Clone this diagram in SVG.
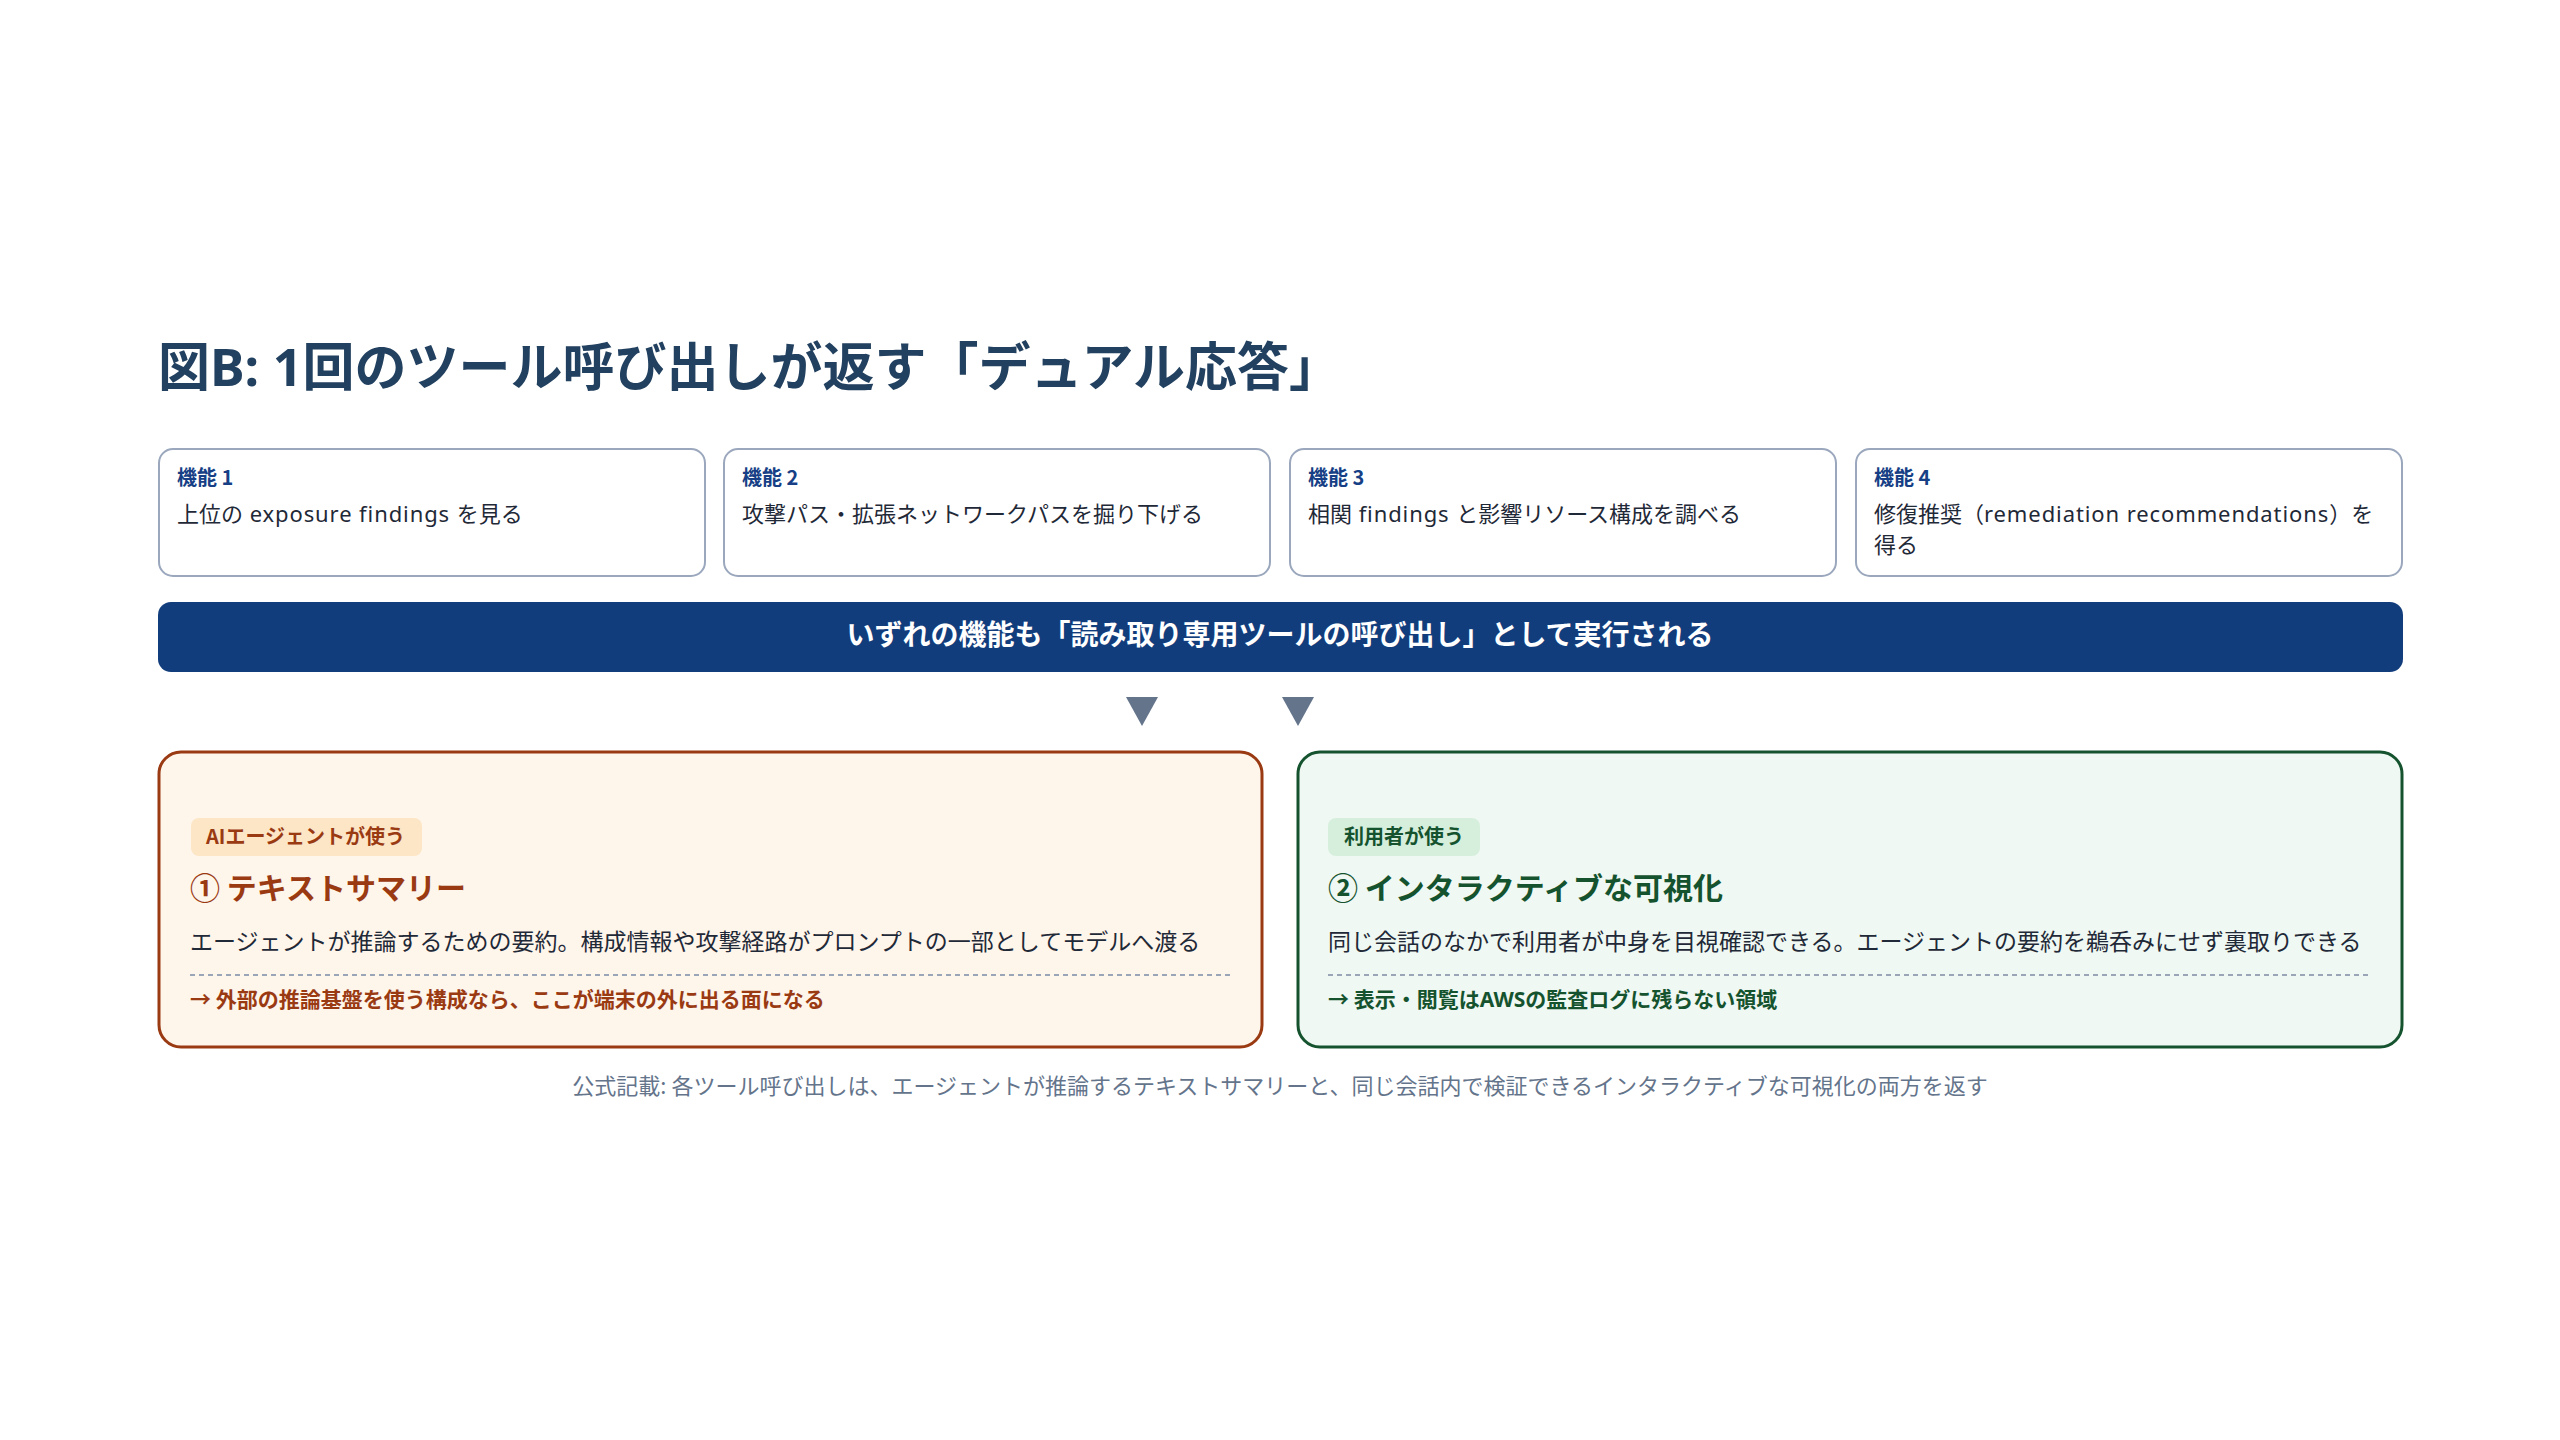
<svg xmlns="http://www.w3.org/2000/svg" width="2560" height="1440" viewBox="0 0 2560 1440">
<defs>
<style>
text{font-family:"Noto Sans CJK JP","Noto Sans CJK SC",sans-serif;}
.lat{font-family:"Noto Sans","Noto Sans CJK JP",sans-serif;}
.ls{letter-spacing:0.9px;}
.title{font-size:52px;font-weight:700;fill:#22405f;}
.fbox{fill:#ffffff;stroke:#9aa7bd;stroke-width:2;}
.flabel{font-size:20px;font-weight:700;fill:#163f86;}
.ftext{font-size:22px;fill:#1f2937;}
.bar{fill:#123d7d;}
.bartext{font-size:28px;font-weight:700;fill:#ffffff;}
.arrow{fill:#64748b;}
.pa{fill:#fef5eb;stroke:#9a3a12;stroke-width:3;}
.pb{fill:#eff8f2;stroke:#15532f;stroke-width:3;}
.ba{fill:#fde6c6;}
.bb{fill:#d6efdd;}
.bta{font-size:20px;font-weight:700;fill:#9a3a12;}
.btb{font-size:20px;font-weight:700;fill:#15532f;}
.ha{font-size:30px;font-weight:700;fill:#9a3a12;}
.hb{font-size:30px;font-weight:700;fill:#15532f;}
.body{font-size:23px;fill:#1f2937;}
.dash{stroke:#9aa5b8;stroke-width:2;stroke-dasharray:5 4;fill:none;}
.na{font-size:21px;font-weight:700;fill:#9a3a12;}
.nb{font-size:21px;font-weight:700;fill:#15532f;}
.cap{font-size:22px;fill:#64748b;}
</style>
</defs>
<rect width="2560" height="1440" fill="#ffffff"/>
<text class="title" x="158" y="386">図<tspan class="lat">B: 1</tspan>回のツール呼び出しが返す「デュアル応答」</text>

<g id="feature1">
<rect class="fbox" x="159" y="449" width="546" height="127" rx="14"/>
<text class="flabel" x="177" y="485">機能 1</text>
<text class="ftext" x="177" y="522">上位の<tspan class="lat ls"> exposure findings </tspan>を見る</text>
</g>
<g id="feature2">
<rect class="fbox" x="724" y="449" width="546" height="127" rx="14"/>
<text class="flabel" x="742" y="485">機能 2</text>
<text class="ftext" x="742" y="522">攻撃パス・拡張ネットワークパスを掘り下げる</text>
</g>
<g id="feature3">
<rect class="fbox" x="1290" y="449" width="546" height="127" rx="14"/>
<text class="flabel" x="1308" y="485">機能 3</text>
<text class="ftext" x="1308" y="522">相関<tspan class="lat ls"> findings </tspan>と影響リソース構成を調べる</text>
</g>
<g id="feature4">
<rect class="fbox" x="1856" y="449" width="546" height="127" rx="14"/>
<text class="flabel" x="1874" y="485">機能 4</text>
<text class="ftext" x="1874" y="522">修復推奨（<tspan class="lat ls">remediation recommendations</tspan>）を<tspan x="1874" y="553">得る</tspan></text>
</g>

<g id="bar">
<rect class="bar" x="158" y="602" width="2245" height="70" rx="13"/>
<text class="bartext" x="1280" y="645" text-anchor="middle">いずれの機能も「読み取り専用ツールの呼び出し」として実行される</text>
</g>

<g id="connectors">
<polygon class="arrow" points="1126,697 1158,697 1142,726"/>
<polygon class="arrow" points="1282,697 1314,697 1298,726"/>
</g>

<g id="summary">
<rect class="pa" x="159" y="752" width="1103" height="295" rx="22"/>
<rect class="ba" x="191" y="818" width="231" height="38" rx="8"/>
<text class="bta" x="206" y="844">AIエージェントが使う</text>
<text class="ha" x="190" y="899">① テキストサマリー</text>
<text class="body" x="190" y="950">エージェントが推論するための要約。構成情報や攻撃経路がプロンプトの一部としてモデルへ渡る</text>
<line class="dash" x1="190" y1="975" x2="1231" y2="975"/>
<text class="na" x="190" y="1007">→ 外部の推論基盤を使う構成なら、ここが端末の外に出る面になる</text>
</g>

<g id="visualization">
<rect class="pb" x="1298" y="752" width="1104" height="295" rx="22"/>
<rect class="bb" x="1328" y="818" width="152" height="38" rx="8"/>
<text class="btb" x="1344" y="844">利用者が使う</text>
<text class="hb" x="1328" y="899">② インタラクティブな可視化</text>
<text class="body" x="1328" y="950">同じ会話のなかで利用者が中身を目視確認できる。エージェントの要約を鵜呑みにせず裏取りできる</text>
<line class="dash" x1="1328" y1="975" x2="2370" y2="975"/>
<text class="nb" x="1328" y="1007">→ 表示・閲覧は<tspan class="lat">AWS</tspan>の監査ログに残らない領域</text>
</g>

<text class="cap" x="1280" y="1094" text-anchor="middle">公式記載: 各ツール呼び出しは、エージェントが推論するテキストサマリーと、同じ会話内で検証できるインタラクティブな可視化の両方を返す</text>
</svg>
